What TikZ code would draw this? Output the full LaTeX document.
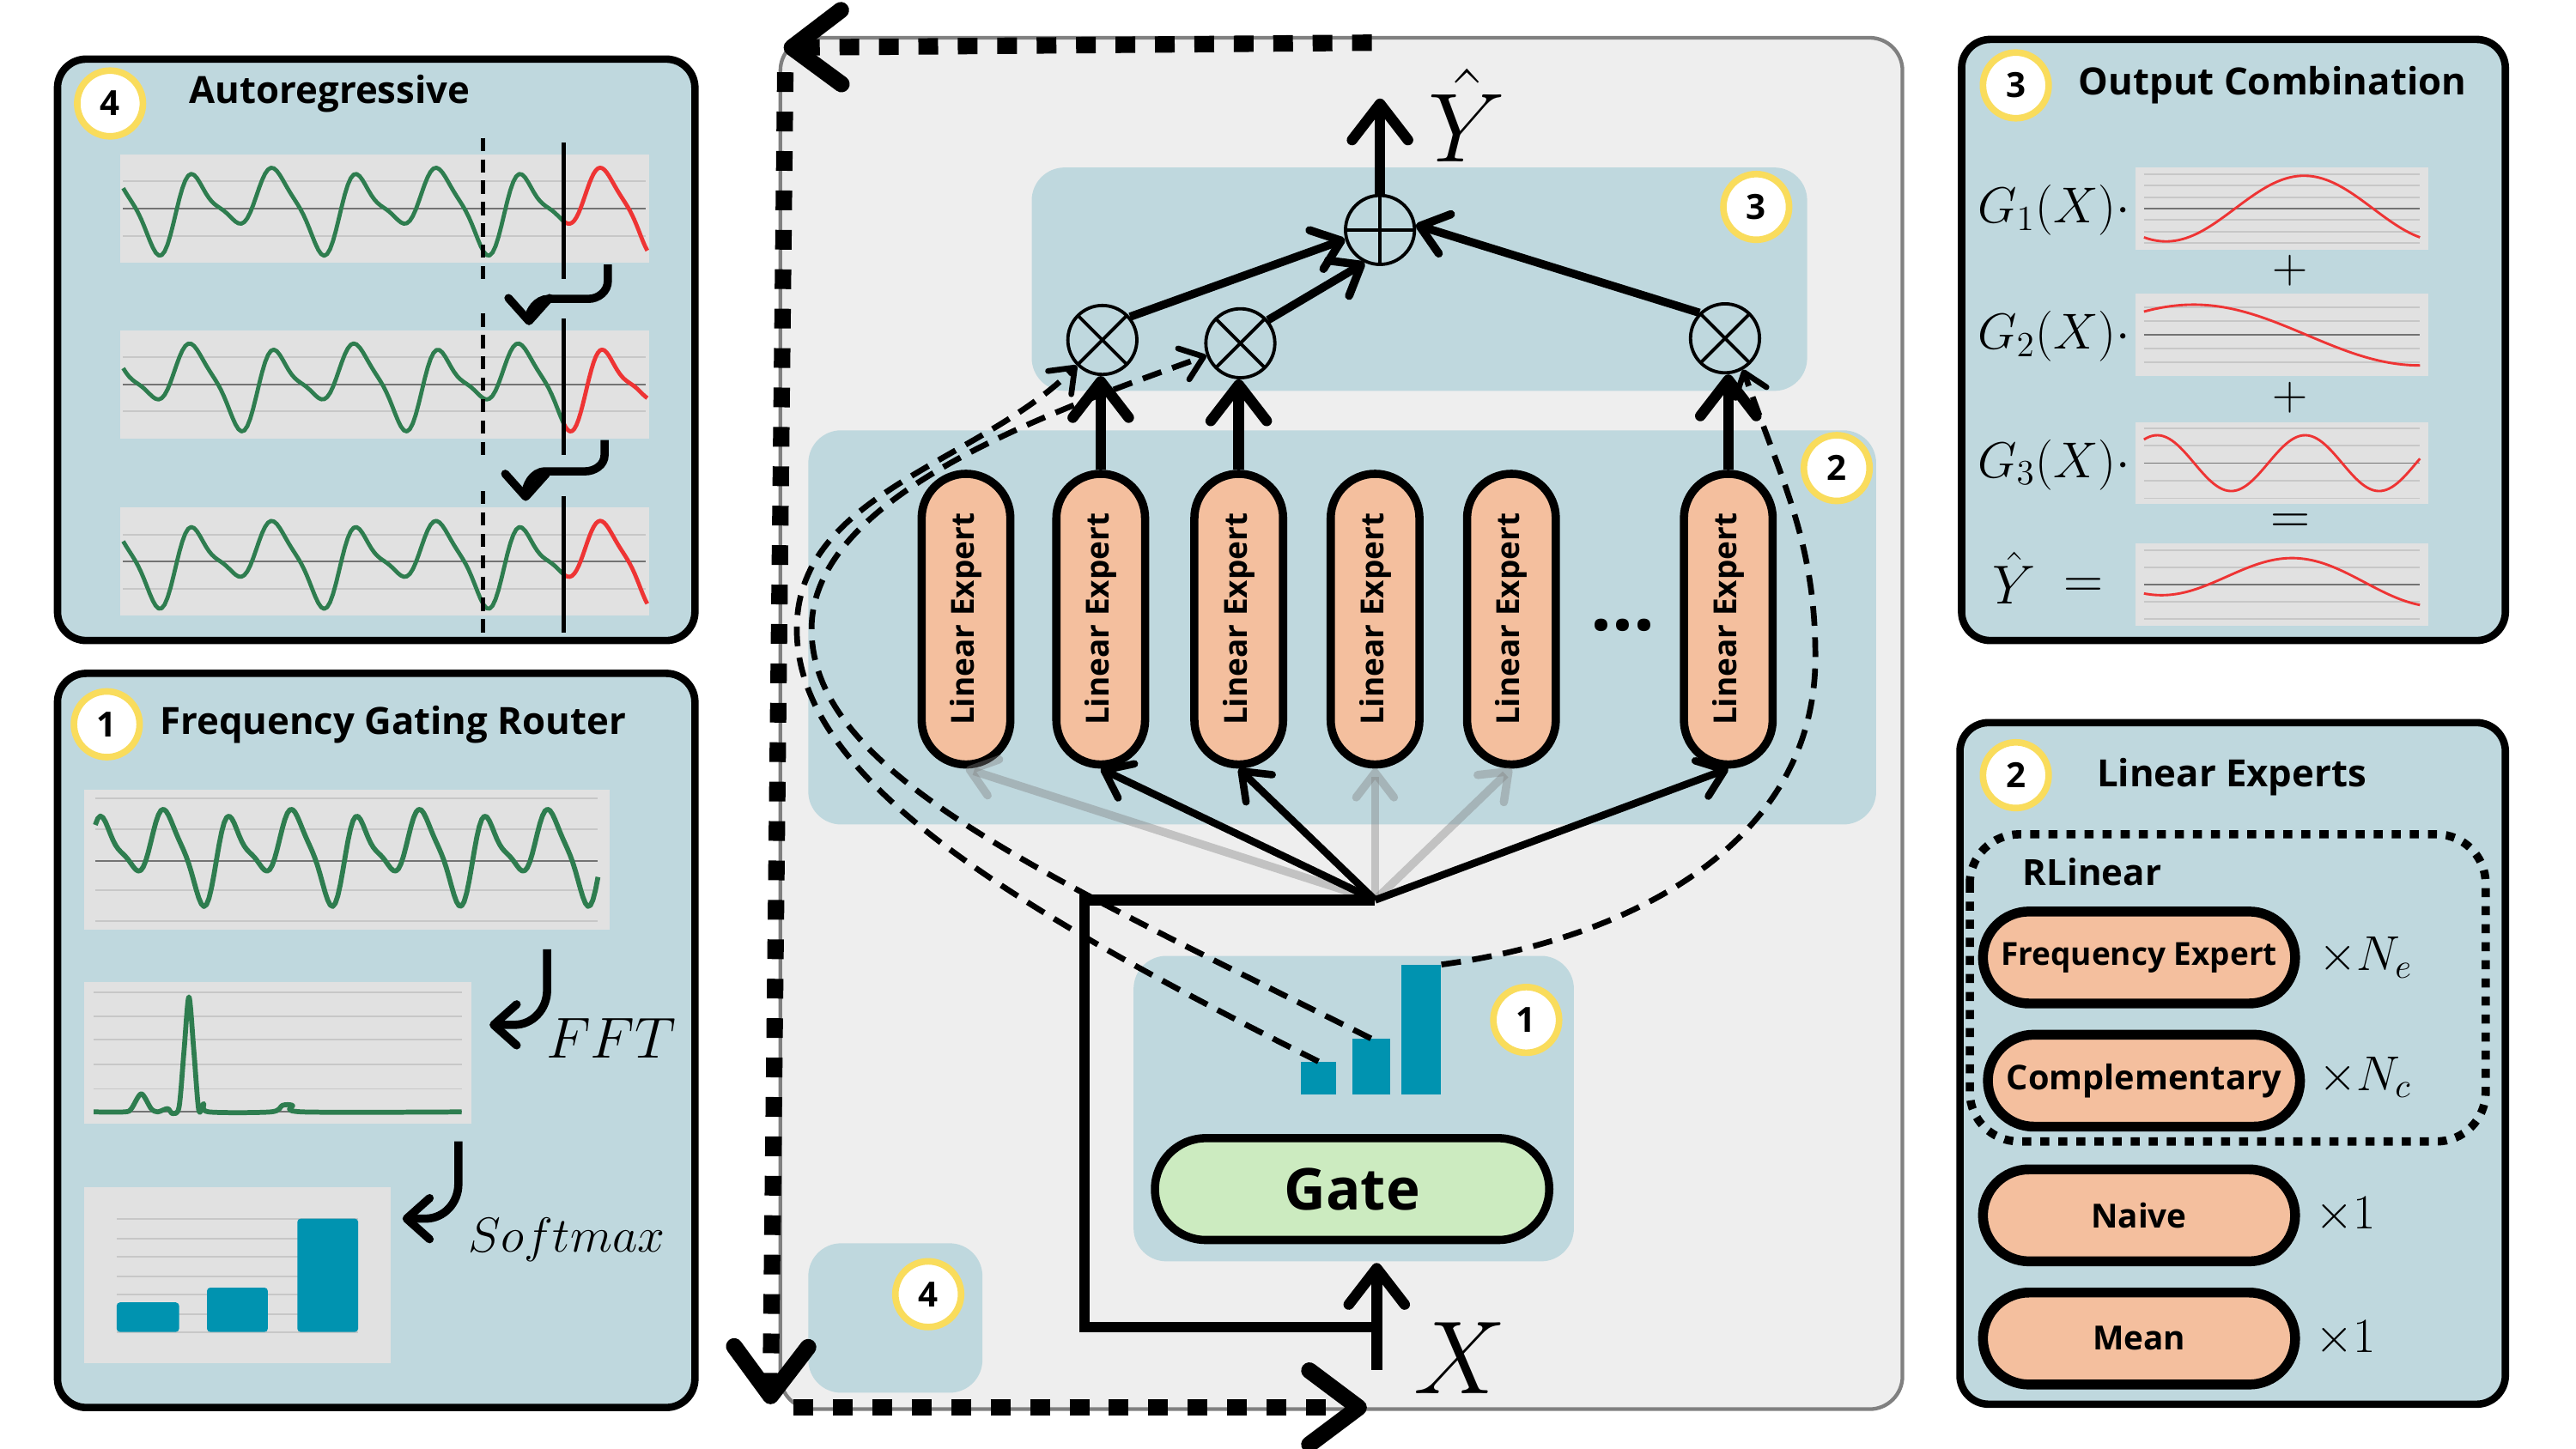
\RequirePackage{fix-cm}
\documentclass[tikz,border=0pt]{standalone}
\usepackage{fontspec}
\setsansfont{Open Sans}
\usepackage{amsmath}
\usetikzlibrary{arrows.meta, positioning, calc}

\definecolor{panelblue}{HTML}{BFD8DE}
\definecolor{centergray}{HTML}{EEEEEE}
\definecolor{plotgray}{HTML}{E1E1E1}
\definecolor{expertfill}{HTML}{F4BF9E}
\definecolor{gatefill}{HTML}{CCEBC0}
\definecolor{barblue}{HTML}{0093B0}
\definecolor{badgeyellow}{HTML}{F9DC5C}
\definecolor{wavegreen}{HTML}{2E7D4F}
\definecolor{wavered}{HTML}{EE3434}

\newcommand{\fs}[1]{\fontsize{#1}{#1}\selectfont}

\begin{document}
\begin{tikzpicture}[
  x=0.2mm, y=0.2mm,
  declare function={ts(\t)=sin(360*\t)+0.25*sin(720*\t)-0.1*cos(180*\t)-0.27*cos(180*\t)*(1-sin(360*\t));},
  panel/.style={draw=black, line width=0.9mm, fill=panelblue, rounded corners=3.5mm},
  region/.style={fill=panelblue, rounded corners=4mm},
  badge/.style={circle, fill=white, draw=badgeyellow, line width=0.8mm, minimum size=8mm, inner sep=0pt, font=\sffamily\bfseries\fs{12}},
  paneltitle/.style={anchor=west, inner sep=0pt, font=\sffamily\bfseries\fs{13}},
  gridline/.style={draw=black!22, line width=0.2mm},
  darkline/.style={draw=black!55, line width=0.2mm},
  green wave/.style={draw=wavegreen, line width=0.5mm, line join=round},
  red wave/.style={draw=wavered, line width=0.5mm, line join=round},
  expert/.style={draw=black, line width=1mm, fill=expertfill, rounded corners=5.4mm, minimum width=35.4mm, minimum height=10.8mm, inner sep=0pt, rotate=90, font=\sffamily\bfseries\fs{11}},
  pill/.style={draw=black, line width=1.2mm, fill=expertfill, rounded corners=5.6mm, minimum width=38mm, minimum height=11.2mm, inner sep=0pt, font=\sffamily\bfseries\fs{11.5}},
  gatebox/.style={draw=black, line width=1mm, fill=gatefill, rounded corners=6.2mm, minimum width=48mm, minimum height=12.4mm, font=\sffamily\bfseries\fs{20}},
  gatebar/.style={fill=barblue, inner sep=0pt, anchor=south},
  opnode/.style={circle, draw=black, line width=0.4mm, minimum size=8.4mm, inner sep=0pt},
  mulnode/.style={opnode, path picture={\draw[line width=0.4mm] (path picture bounding box.north west) -- (path picture bounding box.south east) (path picture bounding box.south west) -- (path picture bounding box.north east);}},
  sumnode/.style={opnode, path picture={\draw[line width=0.4mm] (path picture bounding box.north) -- (path picture bounding box.south) (path picture bounding box.west) -- (path picture bounding box.east);}},
  big arrow/.style={line width=1.3mm, -{Straight Barb[length=4.4mm, width=6.8mm, round]}},
  sum arrow/.style={line width=1mm, -{Straight Barb[length=3.2mm, width=5mm, round]}},
  fan arrow/.style={line width=0.9mm, -{Straight Barb[length=3mm, width=4.6mm, round]}},
  ghost arrow/.style={fan arrow, line width=1mm, draw=gray, draw opacity=0.4},
  gate arrow/.style={line width=0.7mm, dash pattern=on 2.4mm off 1.4mm, -{Straight Barb[length=2.6mm, width=4mm, round]}},
  hook arrow/.style={line width=1mm, -{Straight Barb[length=2.8mm, width=5mm, round]}},
  loop arrow/.style={line width=2mm, dash pattern=on 2.4mm off 2.4mm, -{Straight Barb[length=6mm, width=9mm, round]}}
]
\useasboundingbox (0,0) rectangle (1568,-882);

\draw[panel] (35,-36) rectangle (423,-390);
\node[badge] (ar badge) at (67,-63) {4};
\node[paneltitle] (ar title) at (115,-57) {Autoregressive};
\foreach \cy/\sh in {-127/0, -234/1, -342/0} {
  \fill[plotgray] (73,\cy+33) rectangle (395,\cy-33);
  \draw[gridline] (75,\cy+16.5) -- (393,\cy+16.5) (75,\cy-16.5) -- (393,\cy-16.5);
  \draw[darkline] (75,\cy) -- (393,\cy);
  \draw[green wave] plot[domain=75:343, samples=150] (\x, {\cy + 2 + 19*ts((\x-106.5)/50+\sh)});
  \draw[red wave] plot[domain=343:394, samples=40] (\x, {\cy + 2 + 19*ts((\x-106.5)/50+\sh)});
  \draw[line width=0.5mm, dash pattern=on 1.6mm off 1mm] (294,\cy+43) -- (294,\cy-43);
  \draw[line width=0.5mm] (343,\cy+40) -- (343,\cy-43);
}
\draw[hook arrow] (370,-161) -- (370,-171) to[out=-90,in=0] (358,-182) -- (334,-182) to[out=180,in=90] (322,-198);
\draw[hook arrow] (368,-268) -- (368,-277) to[out=-90,in=0] (356,-287) -- (332,-287) to[out=180,in=90] (320,-305);

\draw[panel] (35,-410) rectangle (423,-857);
\node[badge] (fg badge) at (65,-441) {1};
\node[paneltitle] (fg title) at (97,-441) {Frequency Gating Router};
\fill[plotgray] (51,-481) rectangle (371,-566);
\foreach \gy in {-486,-505,-542,-561} \draw[gridline] (58,\gy) -- (364,\gy);
\draw[darkline] (58,-524) -- (364,-524);
\draw[green wave, line width=0.6mm] plot[domain=58:364, samples=200] (\x, {-518 + 21*ts((\x-53.4)/39)});
\draw[hook arrow] (333,-578) -- (333,-603) to[out=-90,in=0] (313,-624) -- (298,-624);
\node[font=\fs{20}] (fft) at (372,-632) {$FFT$};
\fill[plotgray] (51,-598) rectangle (287,-684);
\foreach \gy in {-604,-619,-633,-648,-663} \draw[gridline] (57,\gy) -- (281,\gy);
\draw[darkline] (57,-677) -- (281,-677);
\draw[green wave, line width=0.6mm] plot[smooth, tension=0.5] coordinates {(57,-677) (76,-677) (80,-675) (86,-666) (92,-675) (96,-677) (102,-675) (105,-678) (109,-674) (112,-640) (115,-607) (118,-640) (121,-676) (124,-672) (127,-677) (165,-677) (172,-673) (178,-673) (184,-677) (281,-677)};
\draw[hook arrow] (279,-695) -- (279,-721) to[out=-90,in=0] (259,-742) -- (245,-742);
\node[font=\fs{17}] (smx) at (345,-755) {$Softmax$};
\fill[plotgray] (51,-723) rectangle (238,-830);
\foreach \gy in {-742,-754,-765,-777,-788,-800,-811} \draw[gridline] (71,\gy) -- (218,\gy);
\fill[barblue, rounded corners=0.4mm] (71,-811) rectangle (109,-793);
\fill[barblue, rounded corners=0.4mm] (126,-811) rectangle (163,-784);
\fill[barblue, rounded corners=0.4mm] (181,-811) rectangle (218,-742);

\draw[panel] (1194,-24) rectangle (1525,-390);
\node[badge] (oc badge) at (1227,-52) {3};
\node[paneltitle] (oc title) at (1265,-52) {Output Combination};
\foreach \cy/\gs/\gn in {-127/7/3, -204/8.4/2, -282/10.7/2, -356/10.5/2} {
  \fill[plotgray] (1300,\cy+25) rectangle (1478,\cy-25);
  \foreach \k in {1,...,\gn} \draw[gridline] (1305,\cy+\k*\gs) -- (1473,\cy+\k*\gs) (1305,\cy-\k*\gs) -- (1473,\cy-\k*\gs);
  \draw[darkline] (1305,\cy) -- (1473,\cy);
}
\draw[red wave, line width=0.3mm] plot[domain=1305:1473, samples=80] (\x, {-127 + 20*cos(360*((\x-1305)/168-0.58))});
\draw[red wave, line width=0.3mm] plot[domain=1305:1473, samples=80] (\x, {-204 + 18.5*cos(219.5*((\x-1305)/168-0.18))});
\draw[red wave, line width=0.3mm] plot[domain=1305:1473, samples=100] (\x, {-282 + 17*cos(671.6*((\x-1305)/168-0.048))});
\draw[red wave, line width=0.3mm] plot[domain=1305:1473, samples=80] (\x, {-349 + 13*cos(360*((\x-1305)/168-0.55)) - 7*(\x-1305)/168});
\node[anchor=east, inner sep=0pt, font=\fs{17.5}] (g1) at (1297,-128) {$G_1(X)\cdot$};
\node[anchor=east, inner sep=0pt, font=\fs{17.5}] (g2) at (1297,-205) {$G_2(X)\cdot$};
\node[anchor=east, inner sep=0pt, font=\fs{17.5}] (g3) at (1297,-283) {$G_3(X)\cdot$};
\node[font=\fs{17}] (plus1) at (1394,-165) {$+$};
\node[font=\fs{17}] (plus2) at (1394,-242) {$+$};
\node[font=\fs{19}] (equal) at (1394,-319) {$=$};
\node[font=\fs{19}] (yhat3) at (1226,-352) {$\hat{Y}$};
\node[font=\fs{19}] (yeq) at (1268,-358) {$=$};

\draw[panel] (1193,-440) rectangle (1525,-855);
\node[badge] (le badge) at (1227,-472) {2};
\node[paneltitle] (le title) at (1276,-473) {Linear Experts};
\draw[line width=1mm, dash pattern=on 1.1mm off 1.1mm, rounded corners=6mm] (1199,-508) rectangle (1513,-695);
\node[anchor=west, inner sep=0pt, font=\sffamily\bfseries\fs{12.5}] (rlinear) at (1231,-531) {RLinear};
\node[pill, font=\sffamily\bfseries\fs{11}] (freq) at (1302,-583) {Frequency Expert};
\node[pill, font=\sffamily\bfseries\fs{11.8}] (comp) at (1305,-658) {Complementary};
\node[pill] (naive) at (1302,-740) {Naive};
\node[pill] (mean) at (1302,-815) {Mean};
\node[anchor=west, font=\fs{17}] (ne) at (1405,-583) {$\times N_e$};
\node[anchor=west, font=\fs{17}] (nc) at (1405,-656) {$\times N_c$};
\node[anchor=west, font=\fs{17}] (n1) at (1403,-740) {$\times 1$};
\node[anchor=west, font=\fs{17}] (n2) at (1403,-815) {$\times 1$};

\draw[fill=centergray, draw=black!50, line width=0.45mm, rounded corners=4mm] (475,-23) rectangle (1158,-858);
\fill[region] (628,-102) rectangle (1100,-238);
\fill[region] (492,-262) rectangle (1142,-502);
\fill[region] (690,-582) rectangle (958,-768);
\fill[region] (492,-757) rectangle (598,-848);
\node[badge] (c3) at (1069,-126) {3};
\node[badge] (c2) at (1118,-285) {2};
\node[badge] (c1) at (929,-621) {1};
\node[badge] (c4) at (565,-788) {4};

\node[gatebar, minimum width=4.2mm, minimum height=4mm] (bar1) at (802.5,-667) {};
\node[gatebar, minimum width=4.6mm, minimum height=6.8mm] (bar2) at (834.5,-667) {};
\node[gatebar, minimum width=4.8mm, minimum height=15.8mm] (bar3) at (865,-667) {};
\node[gatebox] (gate) at (823,-724) {Gate};

\foreach \n/\xx in {1/588, 2/670, 3/754, 4/837, 5/920, 6/1052}
  \node[expert] (e\n) at (\xx,-377) {Linear Expert};
\node[anchor=base, font=\sffamily\bfseries\fs{26}] (dots) at (988,-384) {...};

\node[mulnode] (m1) at (671,-207) {};
\node[mulnode] (m2) at (755,-209) {};
\node[mulnode] (m3) at (1050,-206) {};
\node[sumnode] (s) at (840,-140) {};
\node[font=\fs{34}] (yhat) at (893,-70) {$\hat{Y}$};
\node[font=\fs{36}] (xlab) at (889,-827) {$X$};

\coordinate (yout) at (840,-60);
\coordinate (fan) at (837,-548);
\coordinate (corner) at (660,-548);
\coordinate (xin) at (838,-834);
\coordinate (split) at (838,-808);
\coordinate (gatein) at (838,-769);

\draw[gate arrow] (bar1.north) .. controls (600,-545) and (485,-470) .. (485,-383) .. controls (485,-300) and (596,-282) .. (m1.-135);
\draw[gate arrow] (bar2.north) .. controls (630,-530) and (494,-470) .. (494,-383) .. controls (494,-300) and (645,-249) .. (m2.-160);
\draw[gate arrow] (bar3.north east) .. controls (990,-572) and (1105,-515) .. (1105,-400) .. controls (1105,-329) and (1084,-292) .. (m3.-60);

\draw[big arrow] (s.north) -- (yout);
\foreach \a/\b in {e2/m1, e3/m2, e6/m3}
  \draw[big arrow] (\a.east) -- (\a.east |- \b.south);
\draw[sum arrow] (m1.40) -- (s.195);
\draw[sum arrow] (m2.40) -- (s.-115);
\draw[sum arrow] (m3.135) -- (s.8);

\foreach \e in {e1,e4,e5}
  \draw[ghost arrow] (fan) -- (\e.west);
\foreach \e in {e2,e3,e6}
  \draw[fan arrow] (fan) -- (\e.west);

\draw[big arrow] (xin) -- (gatein);
\draw[line width=1.3mm] (split) -| (corner) -- (fan);

\coordinate (ltop) at (835,-26);
\coordinate (ltopend) at (477,-29);
\coordinate (lside) at (478,-44);
\coordinate (lsideend) at (469,-855);
\coordinate (lbot) at (483,-857);
\coordinate (lbotend) at (832,-857);
\draw[loop arrow] (ltop) -- (ltopend);
\draw[loop arrow] (lside) -- (lsideend);
\draw[loop arrow] (lbot) -- (lbotend);
\end{tikzpicture}
\end{document}
